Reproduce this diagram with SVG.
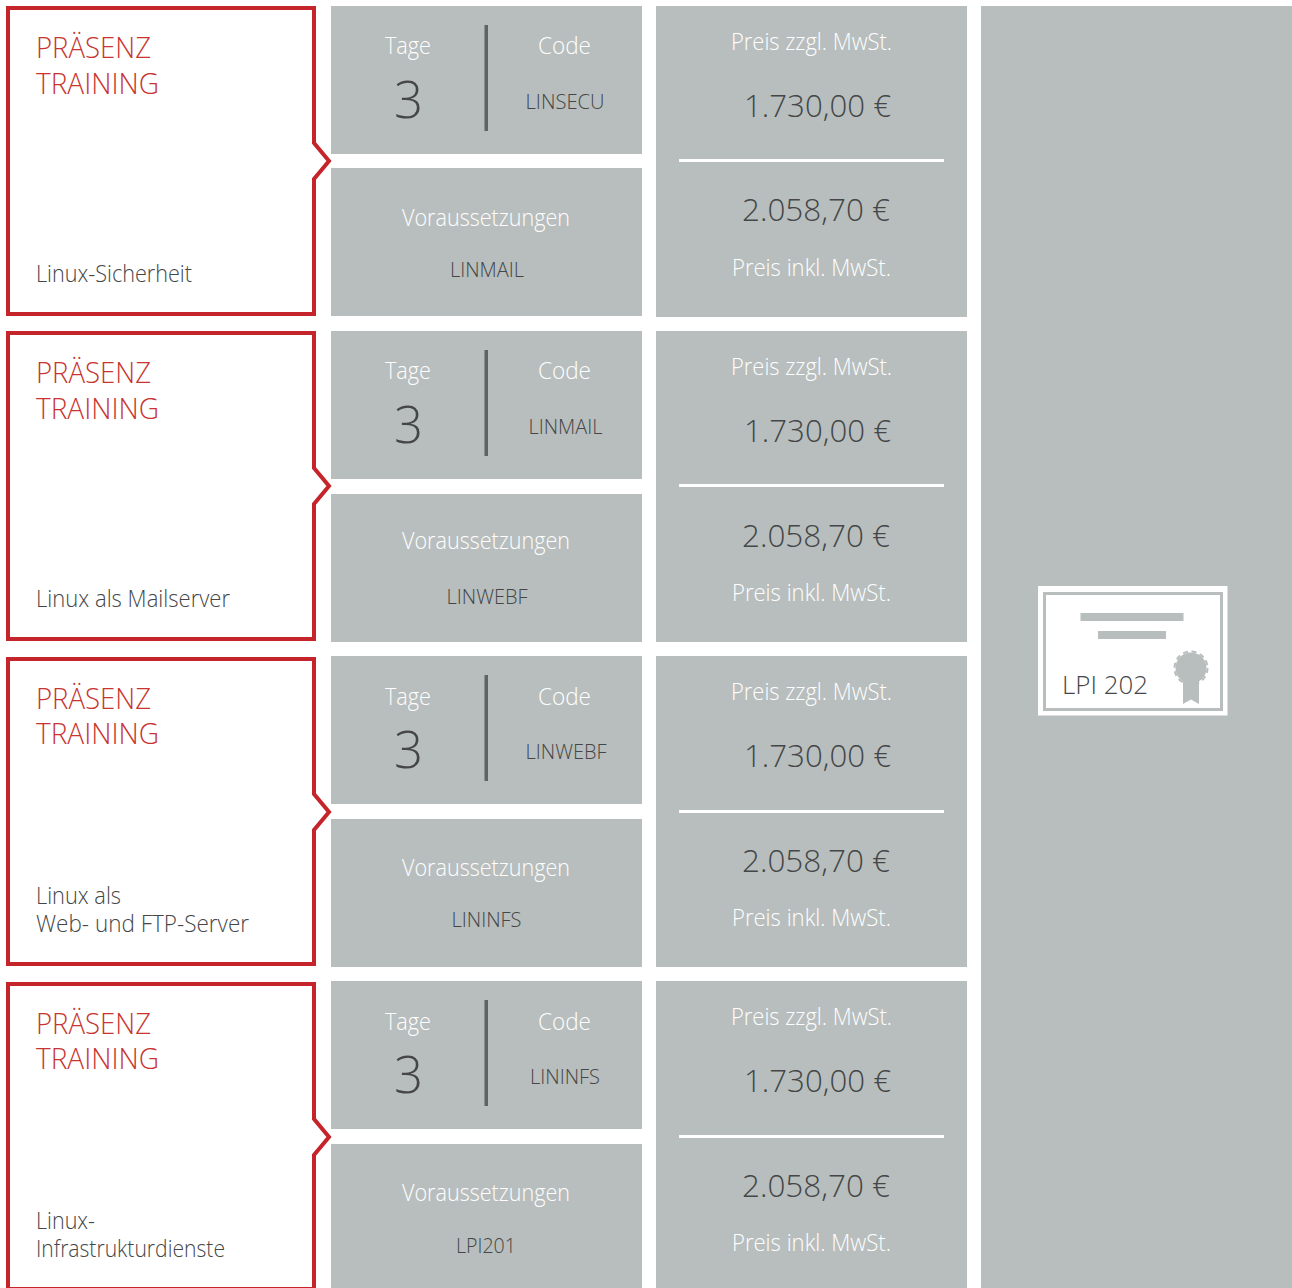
<svg xmlns="http://www.w3.org/2000/svg" width="1292" height="1288" viewBox="0 0 1292 1288">
<style>
text{font-family:"Open Sans","Noto Sans","Liberation Sans",sans-serif;font-weight:300}
.bg{fill:#b8bebd}
.card{fill:#fff;stroke:#c4242a;stroke-width:4}
.red{fill:#c8342f;font-size:29px}
.dk{fill:#444647}
.wh{fill:#fff}
.s23{font-size:23px}
.s22{font-size:21px}
.s31{font-size:31px}
.s3{font-size:51px}
.m{text-anchor:middle}
.div{fill:#5f6362}
.rule{fill:#fff}
</style>
<rect width="1292" height="1288" fill="#fff"/>

<g id="training-1">
<path class="card" d="M8 8H314V143L329 161L314 179V314H8Z"/>
<text class="red" x="36" y="58" textLength="115" lengthAdjust="spacingAndGlyphs">PRÄSENZ</text>
<text class="red" x="36" y="94" textLength="123" lengthAdjust="spacingAndGlyphs">TRAINING</text>
<text class="dk s23" x="36" y="282" textLength="156" lengthAdjust="spacingAndGlyphs">Linux-Sicherheit</text>
</g>
<g id="info-1">
<rect class="bg" x="331" y="6" width="311" height="148"/>
<text class="wh s23" x="385" y="54" textLength="46" lengthAdjust="spacingAndGlyphs">Tage</text>
<text class="dk s3 m" x="408.500" y="118">3</text>
<rect class="div" x="484.500" y="25" width="3.500" height="106"/>
<text class="wh s23" x="538" y="54" textLength="53" lengthAdjust="spacingAndGlyphs">Code</text>
<text class="dk s22" x="525.500" y="109" textLength="79" lengthAdjust="spacingAndGlyphs">LINSECU</text>
</g>
<g id="prereq-1">
<rect class="bg" x="331" y="168" width="311" height="148"/>
<text class="wh s23" x="402" y="226" textLength="168" lengthAdjust="spacingAndGlyphs">Voraussetzungen</text>
<text class="dk s22" x="450" y="277" textLength="74" lengthAdjust="spacingAndGlyphs">LINMAIL</text>
</g>
<g id="price-1">
<rect class="bg" x="656" y="6" width="311" height="311"/>
<text class="wh s23" x="731" y="50" textLength="161" lengthAdjust="spacingAndGlyphs">Preis zzgl. MwSt.</text>
<text class="dk s31" x="744" y="117" textLength="147" lengthAdjust="spacingAndGlyphs">1.730,00 €</text>
<rect class="rule" x="679" y="159" width="265" height="3"/>
<text class="dk s31" x="742" y="221" textLength="148" lengthAdjust="spacingAndGlyphs">2.058,70 €</text>
<text class="wh s23" x="732" y="276" textLength="159" lengthAdjust="spacingAndGlyphs">Preis inkl. MwSt.</text>
</g>

<g id="training-2">
<path class="card" d="M8 333H314V468L329 486L314 504V639H8Z"/>
<text class="red" x="36" y="383" textLength="115" lengthAdjust="spacingAndGlyphs">PRÄSENZ</text>
<text class="red" x="36" y="419" textLength="123" lengthAdjust="spacingAndGlyphs">TRAINING</text>
<text class="dk s23" x="36" y="607" textLength="194" lengthAdjust="spacingAndGlyphs">Linux als Mailserver</text>
</g>
<g id="info-2">
<rect class="bg" x="331" y="331" width="311" height="148"/>
<text class="wh s23" x="385" y="379" textLength="46" lengthAdjust="spacingAndGlyphs">Tage</text>
<text class="dk s3 m" x="408.500" y="443">3</text>
<rect class="div" x="484.500" y="350" width="3.500" height="106"/>
<text class="wh s23" x="538" y="379" textLength="53" lengthAdjust="spacingAndGlyphs">Code</text>
<text class="dk s22" x="528.500" y="434" textLength="74" lengthAdjust="spacingAndGlyphs">LINMAIL</text>
</g>
<g id="prereq-2">
<rect class="bg" x="331" y="494" width="311" height="148"/>
<text class="wh s23" x="402" y="549" textLength="168" lengthAdjust="spacingAndGlyphs">Voraussetzungen</text>
<text class="dk s22" x="446.500" y="604" textLength="81" lengthAdjust="spacingAndGlyphs">LINWEBF</text>
</g>
<g id="price-2">
<rect class="bg" x="656" y="331" width="311" height="311"/>
<text class="wh s23" x="731" y="375" textLength="161" lengthAdjust="spacingAndGlyphs">Preis zzgl. MwSt.</text>
<text class="dk s31" x="744" y="442" textLength="147" lengthAdjust="spacingAndGlyphs">1.730,00 €</text>
<rect class="rule" x="679" y="484" width="265" height="3"/>
<text class="dk s31" x="742" y="547" textLength="148" lengthAdjust="spacingAndGlyphs">2.058,70 €</text>
<text class="wh s23" x="732" y="601" textLength="159" lengthAdjust="spacingAndGlyphs">Preis inkl. MwSt.</text>
</g>

<g id="training-3">
<path class="card" d="M8 659H314V794L329 812L314 830V964H8Z"/>
<text class="red" x="36" y="709" textLength="115" lengthAdjust="spacingAndGlyphs">PRÄSENZ</text>
<text class="red" x="36" y="744" textLength="123" lengthAdjust="spacingAndGlyphs">TRAINING</text>
<text class="dk s23" x="36" y="904" textLength="85" lengthAdjust="spacingAndGlyphs">Linux als</text>
<text class="dk s23" x="36" y="932" textLength="213" lengthAdjust="spacingAndGlyphs">Web- und FTP-Server</text>
</g>
<g id="info-3">
<rect class="bg" x="331" y="656" width="311" height="148"/>
<text class="wh s23" x="385" y="705" textLength="46" lengthAdjust="spacingAndGlyphs">Tage</text>
<text class="dk s3 m" x="408.500" y="768">3</text>
<rect class="div" x="484.500" y="675" width="3.500" height="106"/>
<text class="wh s23" x="538" y="705" textLength="53" lengthAdjust="spacingAndGlyphs">Code</text>
<text class="dk s22" x="525.500" y="759" textLength="81" lengthAdjust="spacingAndGlyphs">LINWEBF</text>
</g>
<g id="prereq-3">
<rect class="bg" x="331" y="819" width="311" height="148"/>
<text class="wh s23" x="402" y="876" textLength="168" lengthAdjust="spacingAndGlyphs">Voraussetzungen</text>
<text class="dk s22" x="451.500" y="927" textLength="70" lengthAdjust="spacingAndGlyphs">LININFS</text>
</g>
<g id="price-3">
<rect class="bg" x="656" y="656" width="311" height="311"/>
<text class="wh s23" x="731" y="700" textLength="161" lengthAdjust="spacingAndGlyphs">Preis zzgl. MwSt.</text>
<text class="dk s31" x="744" y="767" textLength="147" lengthAdjust="spacingAndGlyphs">1.730,00 €</text>
<rect class="rule" x="679" y="810" width="265" height="3"/>
<text class="dk s31" x="742" y="872" textLength="148" lengthAdjust="spacingAndGlyphs">2.058,70 €</text>
<text class="wh s23" x="732" y="926" textLength="159" lengthAdjust="spacingAndGlyphs">Preis inkl. MwSt.</text>
</g>

<g id="training-4">
<path class="card" d="M8 984H314V1119L329 1137L314 1155V1289H8Z"/>
<text class="red" x="36" y="1034" textLength="115" lengthAdjust="spacingAndGlyphs">PRÄSENZ</text>
<text class="red" x="36" y="1069" textLength="123" lengthAdjust="spacingAndGlyphs">TRAINING</text>
<text class="dk s23" x="36" y="1229" textLength="59" lengthAdjust="spacingAndGlyphs">Linux-</text>
<text class="dk s23" x="36" y="1257" textLength="189" lengthAdjust="spacingAndGlyphs">Infrastrukturdienste</text>
</g>
<g id="info-4">
<rect class="bg" x="331" y="981" width="311" height="148"/>
<text class="wh s23" x="385" y="1030" textLength="46" lengthAdjust="spacingAndGlyphs">Tage</text>
<text class="dk s3 m" x="408.500" y="1093">3</text>
<rect class="div" x="484.500" y="1000" width="3.500" height="106"/>
<text class="wh s23" x="538" y="1030" textLength="53" lengthAdjust="spacingAndGlyphs">Code</text>
<text class="dk s22" x="530" y="1084" textLength="70" lengthAdjust="spacingAndGlyphs">LININFS</text>
</g>
<g id="prereq-4">
<rect class="bg" x="331" y="1144" width="311" height="144"/>
<text class="wh s23" x="402" y="1201" textLength="168" lengthAdjust="spacingAndGlyphs">Voraussetzungen</text>
<text class="dk s22" x="456" y="1253" textLength="60" lengthAdjust="spacingAndGlyphs">LPI201</text>
</g>
<g id="price-4">
<rect class="bg" x="656" y="981" width="311" height="307"/>
<text class="wh s23" x="731" y="1025" textLength="161" lengthAdjust="spacingAndGlyphs">Preis zzgl. MwSt.</text>
<text class="dk s31" x="744" y="1092" textLength="147" lengthAdjust="spacingAndGlyphs">1.730,00 €</text>
<rect class="rule" x="679" y="1135" width="265" height="3"/>
<text class="dk s31" x="742" y="1197" textLength="148" lengthAdjust="spacingAndGlyphs">2.058,70 €</text>
<text class="wh s23" x="732" y="1251" textLength="159" lengthAdjust="spacingAndGlyphs">Preis inkl. MwSt.</text>
</g>

<g id="certificate-panel">
<rect class="bg" x="981" y="6" width="311" height="1282"/>
<rect x="1038" y="586" width="189.500" height="129.500" fill="#fff"/>
<rect x="1044.500" y="593.500" width="177" height="116" fill="none" stroke="#b8bebd" stroke-width="3"/>
<rect class="bg" x="1080.500" y="613" width="103" height="8"/>
<rect class="bg" x="1098" y="631" width="68" height="8"/>
<text class="dk" x="1062" y="694" font-size="26" textLength="86" lengthAdjust="spacingAndGlyphs">LPI 202</text>
<path class="bg" d="M1183 678V704L1191 699.500L1199 704V678Z"/>
<circle class="bg" cx="1191" cy="668" r="15.500"/>
<circle cx="1191" cy="668" r="16.500" fill="none" stroke="#b8bebd" stroke-width="2" stroke-dasharray="5 3.640"/>
</g>
</svg>
